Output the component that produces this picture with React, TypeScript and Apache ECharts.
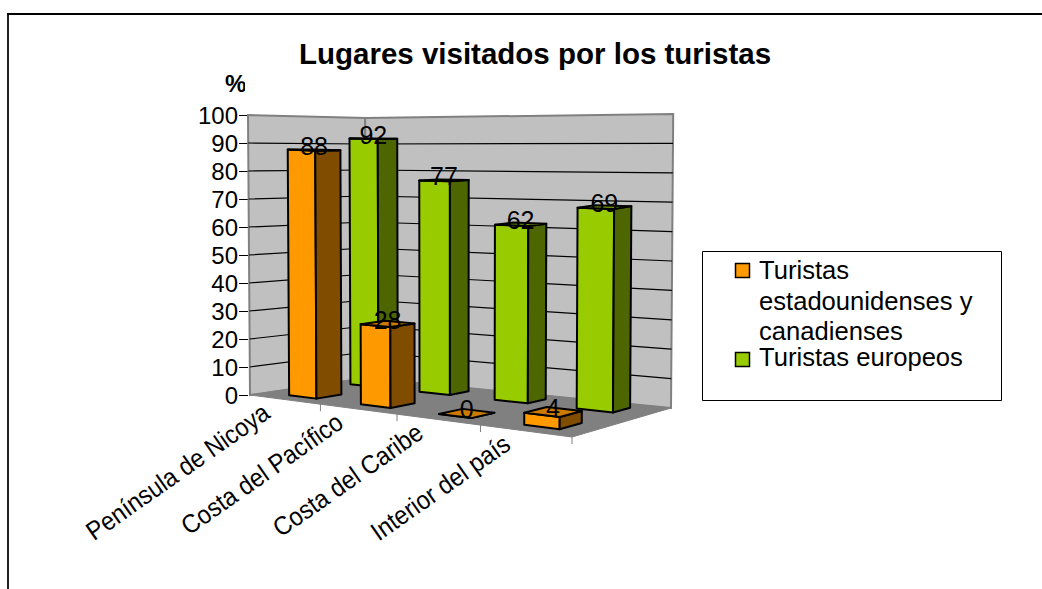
import React, { useEffect, useRef } from "react";
import * as echarts from "echarts";

const titleText = "Lugares visitados por los turistas";
const unitText = "%";
const categories = ["Península de Nicoya", "Costa del Pacífico", "Costa del Caribe", "Interior del país"];
const usCanada = [88, 28, 0, 4];
const europeans = [92, 77, 62, 69];
const yTicks = [0, 10, 20, 30, 40, 50, 60, 70, 80, 90, 100];
const legendUs = ["Turistas", "estadounidenses y", "canadienses"];
const legendEu = "Turistas europeos";

const FONT = '"Liberation Sans", Arial, sans-serif';
const GRID = { left: 248, top: 115, width: 324, height: 280 };

// Projection of the 3D box: floor corners and wall heights
const A = [250, 395], B = [572, 437], C = [671, 408], D = [366, 378];
const HA = 280, HB = 310, HC = 294, HD = 260;
const warp = (s: number) => (0.84 * s) / (1 - 0.16 * s);
function pt(s: number, t: number, frac: number): number[] {
  const f = warp(s);
  const fx = (1 - t) * (A[0] + (B[0] - A[0]) * f) + t * (D[0] + (C[0] - D[0]) * f);
  const fy = (1 - t) * (A[1] + (B[1] - A[1]) * f) + t * (D[1] + (C[1] - D[1]) * f);
  const H = (1 - t) * (HA + (HB - HA) * f) + t * (HD + (HC - HD) * f);
  return [fx + (fx - 450) * 0.01 * frac, fy - H * frac];
}

function barSeries(name: string, values: number[], opt: any) {
  return {
    type: "custom",
    name,
    z: opt.z,
    data: values.map((v, i) => [i, v]),
    encode: { x: 0, y: 1 },
    renderItem: (_p: any, api: any) => {
      const cat = api.value(0), val = api.value(1);
      const band = api.size([1, 0])[0];
      const left = api.coord([cat, 0])[0] - band / 2;
      const s0 = (left + opt.r0 * band - GRID.left) / GRID.width;
      const s1 = (left + opt.r1 * band - GRID.left) / GRID.width;
      const fr = api.size([0, val])[1] / GRID.height;
      const { t0, t1 } = opt;
      const stroke = { stroke: "#000", lineWidth: 2, lineJoin: "round" };
      const c = pt((s0 + s1) / 2, (t0 + t1) / 2, fr);
      return {
        type: "group",
        children: [
          { type: "polygon", shape: { points: [pt(s0, t0, 0), pt(s1, t0, 0), pt(s1, t0, fr), pt(s0, t0, fr)] }, style: { fill: opt.front, ...stroke } },
          { type: "polygon", shape: { points: [pt(s1, t0, 0), pt(s1, t1, 0), pt(s1, t1, fr), pt(s1, t0, fr)] }, style: { fill: opt.side, ...stroke } },
          { type: "polygon", shape: { points: [pt(s0, t0, fr), pt(s1, t0, fr), pt(s1, t1, fr), pt(s0, t1, fr)] }, style: { fill: opt.top, ...stroke } },
          { type: "text", x: c[0], y: c[1] - 4, style: { text: String(val), x: 0, y: 0, align: "center", verticalAlign: "middle", fill: "#000", font: `25px ${FONT}` } },
        ],
      };
    },
  };
}

export default function App() {
  const ref = useRef<HTMLDivElement>(null);
  useEffect(() => {
    const chart = echarts.init(ref.current!, undefined, { renderer: "svg" });
    const wallSeries = {
      type: "custom", z: 1, silent: true, data: [[0, 0]], encode: { x: 0, y: 1 },
      renderItem: () => ({
        type: "group",
        children: [
          { type: "polygon", shape: { points: [pt(0, 0, 0), pt(0, 1, 0), pt(0, 1, 1), pt(0, 0, 1)] }, style: { fill: "#C0C0C0", stroke: "#808080", lineWidth: 2 } },
          { type: "polygon", shape: { points: [pt(0, 1, 0), pt(1, 1, 0), pt(1, 1, 1), pt(0, 1, 1)] }, style: { fill: "#C0C0C0", stroke: "#808080", lineWidth: 2 } },
          { type: "polygon", shape: { points: [pt(0, 0, 0), pt(1, 0, 0), pt(1, 1, 0), pt(0, 1, 0)] }, style: { fill: "#808080", stroke: "#808080", lineWidth: 1 } },
        ],
      }),
    };
    const gridSeries = {
      type: "custom", z: 2, silent: true, data: yTicks.filter((v) => v > 0 && v < 100).map((v) => [0, v]), encode: { x: 0, y: 1 },
      renderItem: (_p: any, api: any) => {
        const fr = api.size([0, api.value(1)])[1] / GRID.height;
        return { type: "polyline", shape: { points: [pt(0, 0, fr), pt(0, 1, fr), pt(1, 1, fr)] }, style: { fill: "none", stroke: "#000", lineWidth: 1.2 } };
      },
    };
    const catSeries = {
      type: "custom", z: 3, silent: true, data: categories.map((_, i) => [i, 0]), encode: { x: 0, y: 1 },
      renderItem: (_p: any, api: any) => {
        const i = api.value(0);
        const band = api.size([1, 0])[0];
        const cx = api.coord([i, 0])[0];
        const sc = (cx - GRID.left) / GRID.width;
        const sr = (cx + band / 2 - GRID.left) / GRID.width;
        const c = pt(sc, 0, 0), e = pt(sr, 0, 0);
        return {
          type: "group",
          children: [
            { type: "line", shape: { x1: e[0], y1: e[1], x2: e[0], y2: e[1] + 7 }, style: { stroke: "#808080", lineWidth: 1 } },
            { type: "text", x: c[0] - 18, y: c[1] + 10, rotation: (35 * Math.PI) / 180, scaleX: 0.91, style: { text: categories[i], x: 0, y: 0, align: "right", verticalAlign: "middle", fill: "#000", font: `26px ${FONT}` } },
          ],
        };
      },
    };
    const legendFont = `25.6px ${FONT}`;
    chart.setOption({
      animation: false,
      backgroundColor: "#fff",
      title: { text: titleText, left: 530, top: 33, textAlign: "center", textStyle: { fontFamily: FONT, fontWeight: "bold", fontSize: 29.5, color: "#000" } },
      grid: GRID,
      xAxis: { type: "category", data: categories, show: false },
      yAxis: {
        type: "value", min: 0, max: 100, interval: 10,
        axisLine: { show: false },
        axisTick: { show: true, length: 9, lineStyle: { color: "#000" } },
        splitLine: { show: false },
        axisLabel: { fontFamily: FONT, fontSize: 24, color: "#000", margin: 10 },
      },
      series: [
        wallSeries, gridSeries, catSeries,
        barSeries("Turistas europeos", europeans, { z: 4, r0: 0.24, r1: 0.655, t0: 0.73, t1: 0.9, front: "#99CC00", side: "#4D6600", top: "#7AA300" }),
        barSeries("Turistas estadounidenses y canadienses", usCanada, { z: 5, r0: 0.32, r1: 0.71, t0: 0.15, t1: 0.37, front: "#FF9900", side: "#804D00", top: "#CC7A00" }),
      ],
      graphic: [
        { type: "line", shape: { x1: 8, y1: 13, x2: 8, y2: 589 }, style: { stroke: "#222", lineWidth: 2 } },
        { type: "line", shape: { x1: 7, y1: 14, x2: 1042, y2: 14 }, style: { stroke: "#000", lineWidth: 2 } },
        { type: "text", x: 225, y: 71, style: { text: unitText, fill: "#000", font: `bold 24px ${FONT}` } },
        { type: "rect", shape: { x: 245, y: 70, width: 12, height: 24 }, style: { fill: "#fff" } },
        { type: "rect", shape: { x: 702.5, y: 251.5, width: 299, height: 149 }, style: { fill: "#fff", stroke: "#000", lineWidth: 1 } },
        { type: "rect", shape: { x: 735.5, y: 263.5, width: 14, height: 14 }, style: { fill: "#FF9900", stroke: "#000", lineWidth: 1.5 } },
        { type: "rect", shape: { x: 735.5, y: 352.5, width: 14, height: 14 }, style: { fill: "#99CC00", stroke: "#000", lineWidth: 1.5 } },
        { type: "text", x: 759, y: 257, style: { text: legendUs[0], fill: "#000", font: legendFont } },
        { type: "text", x: 759, y: 288, style: { text: legendUs[1], fill: "#000", font: legendFont } },
        { type: "text", x: 759, y: 318, style: { text: legendUs[2], fill: "#000", font: legendFont } },
        { type: "text", x: 759, y: 344, style: { text: legendEu, fill: "#000", font: legendFont } },
      ],
    });
    return () => chart.dispose();
  }, []);
  return <div ref={ref} style={{ position: "fixed", left: 0, top: 0, width: 1042, height: 589 }} />;
}
